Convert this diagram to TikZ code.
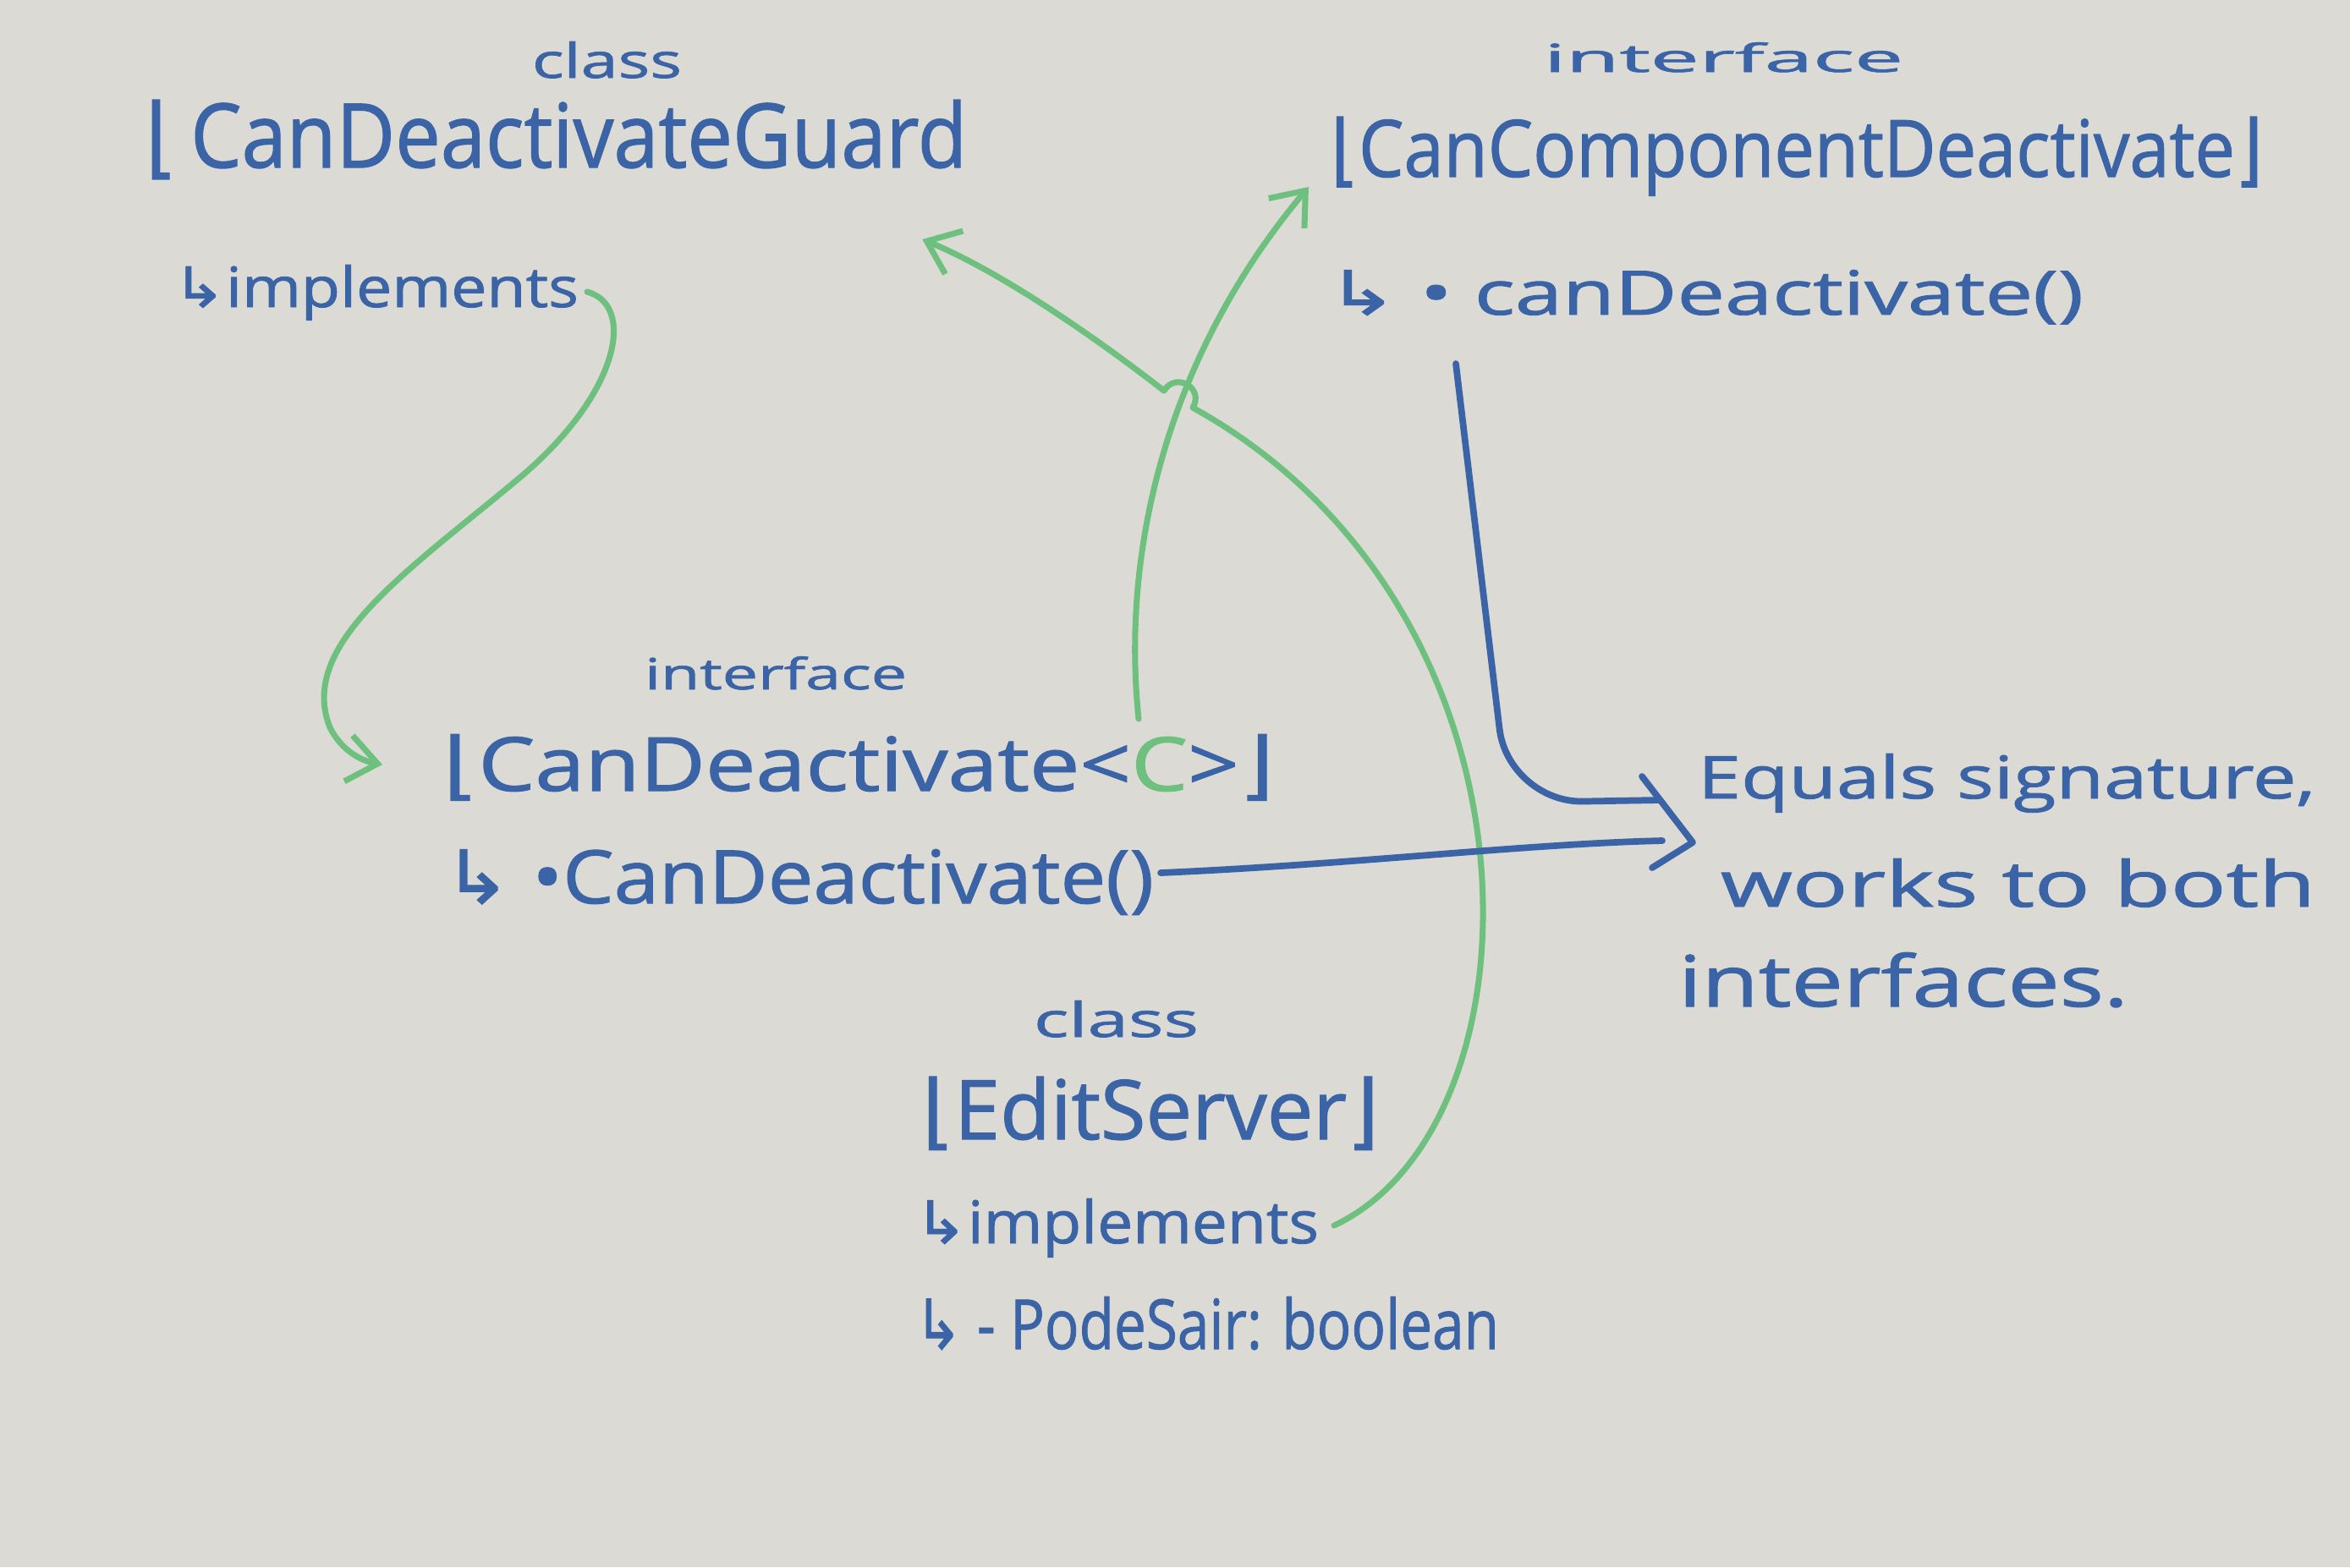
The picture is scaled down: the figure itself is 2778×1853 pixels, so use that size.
\documentclass[tikz,border=0pt]{standalone}
\usepackage{fontspec}
\setmainfont{Open Sans}[FakeBold=1.2]
\newfontfamily\symfont{DejaVu Sans}[FakeBold=1.2]
\usetikzlibrary{arrows.meta,calc}
\definecolor{board}{HTML}{DCDAD5}
\definecolor{ink}{HTML}{3B64A6}
\definecolor{pgreen}{HTML}{6EC07E}
\newlength\un \setlength\un{0.1mm}
\newcommand\hw[3]{\resizebox{#1\un}{#2\un}{#3}}
\newcommand\lb{{\symfont ⌊}}
\newcommand\rb{{\symfont ⌋}}
\newcommand\ar{{\symfont ↳}}
\tikzset{
  hwtext/.style={anchor=base west, inner sep=0pt, outer sep=0pt, text=ink},
  gline/.style={draw=pgreen, line width=2pt, line cap=round, line join=round,
    -{Straight Barb[length=3.5mm,width=5.5mm]}},
  bline/.style={draw=ink, line width=2.2pt, line cap=round, line join=round}
}
\begin{document}
\begin{tikzpicture}[x=0.1mm,y=-0.1mm]
\useasboundingbox (0,0) rectangle (2778,1853);
\fill[board] (0,0) rectangle (2778,1853);

% texts
\node[hwtext] (cls1) at (629,92) {\hw{177}{43}{class}};
\node[hwtext] (guard) at (172,198) {\hw{971}{80}{\lb\,CanDeactivateGuard}};
\node[hwtext] (impl1) at (204,363) {\hw{480}{50}{\ar implements}};
\node[hwtext] (itf1) at (1825,85) {\hw{425}{35}{interface}};
\node[hwtext] (ccd) at (1573,209) {\hw{1102}{71}{\lb CanComponentDeactivate\rb}};
\node[hwtext] (ccdm) at (1568,372) {\hw{895}{53}{\ar\ • canDeactivate()}};
\node[hwtext] (itf2) at (762,815) {\hw{310}{39}{interface}};
\node[hwtext] (cd) at (524,935) {\hw{982}{67}{\lb CanDeactivate<\textcolor{pgreen}{C}>\rb}};
\node[hwtext] (cdm) at (524,1068) {\hw{840}{64}{\ar\ •CanDeactivate()}};
\node[hwtext] (cls2) at (1222,1226) {\hw{195}{43}{class}};
\node[hwtext] (es) at (1090,1347) {\hw{540}{74}{\lb EditServer\rb}};
\node[hwtext] (impl2) at (1081,1470) {\hw{478}{53}{\ar implements}};
\node[hwtext] (attr) at (1081,1595) {\hw{691}{62}{\ar\ - PodeSair: boolean}};
\node[hwtext] (n1) at (2007,944) {\hw{730}{53}{Equals signature,}};
\node[hwtext] (n2) at (2034,1072) {\hw{703}{57}{works to both}};
\node[hwtext] (n3) at (1984,1190) {\hw{532}{64}{interfaces.}};

% connector ends
\coordinate (g1s) at ($(impl1.base east)+(10,-18)$);
\coordinate (g1end) at ($(cd.base west)+(-72,-31)$);
\coordinate (gC) at (1346,850);
\coordinate (g2end) at ($(ccd.base west)+(-26,12)$);
\coordinate (g3s) at ($(impl2.base east)+(18,-21)$);
\coordinate (g3end) at ($(guard.base east)+(-53,85)$);
\coordinate (b1s) at ($(ccdm.base west)+(153,58)$);
\coordinate (eqtip) at ($(n1.base west)+(-6,52)$);
\coordinate (b1end) at ($(eqtip)+(-40,-50)$);
\coordinate (b2s) at ($(cdm.base east)+(8,-36)$);
\coordinate (b2end) at ($(eqtip)+(-36,-2)$);

% green connectors
\draw[gline] (g1s) .. controls (750,360) and (735,460) .. (620,560)
  .. controls (490,670) and (350,760) .. (390,860)
  .. controls (405,890) and (430,900) .. (g1end);
\draw[gline] (gC) .. controls (1325,650) and (1380,420) .. (g2end);
\draw[gline] (g3s) .. controls (1830,1330) and (1840,720) .. (1410,482)
  .. controls (1424,459) and (1390,439) .. (1376,462)
  .. controls (1290,395) and (1180,320) .. (g3end);

% blue connectors
\draw[bline, rounded corners=25pt] (b1s) -- (1783,949) -- (b1end);
\draw[bline] (b2s) .. controls (1600,1022) and (1800,998) .. (b2end);
\draw[bline] ($(eqtip)+(-60,-78)$) -- (eqtip) -- ($(eqtip)+(-48,30)$);
\end{tikzpicture}
\end{document}
